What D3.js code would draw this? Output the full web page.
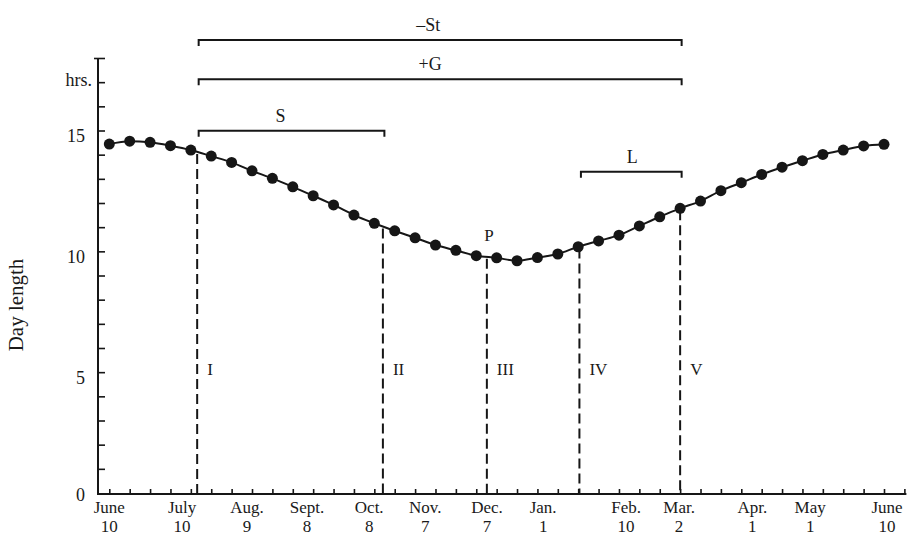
<!DOCTYPE html>
<html><head><meta charset="utf-8">
<script src="https://cdn.jsdelivr.net/npm/d3@7"></script>
<style>
body{margin:0;background:#fff}
svg{display:block;background:#fff}
text{font-family:"Liberation Serif","DejaVu Serif",serif;fill:#1a1a1a}
</style>
</head><body>
<svg id="c" width="910" height="536"></svg>
<script>
// Day length (hours) at each sample point, June 10 → June 10
const dayLength = [14.44, 14.56, 14.51, 14.37, 14.19, 13.94, 13.68, 13.33, 13.02, 12.67,
                   12.30, 11.92, 11.50, 11.16, 10.85, 10.56, 10.26, 10.04, 9.82, 9.73,
                   9.61, 9.74, 9.89, 10.19, 10.43, 10.67, 11.05, 11.43, 11.78, 12.08,
                   12.51, 12.84, 13.18, 13.48, 13.75, 14.01, 14.19, 14.36, 14.43];
// x tick labels (month / date) and where they sit, in sample-index units
const tickMonths = ["June","July","Aug.","Sept.","Oct.","Nov.","Dec.","Jan.","Feb.","Mar.","Apr.","May","June"];
const tickDates  = ["10","10","9","8","8","7","7","1","10","2","1","1","10"];
const tickAt     = [0, 3.57, 6.76, 9.7, 12.75, 15.5, 18.53, 21.28, 25.35, 27.95, 31.54, 34.38, 38.15];
// stage markers (dashed verticals)
const markerNames = ["I","II","III","IV","V"];
const markerAt    = [4.31, 13.42, 18.52, 23.06, 28.0];
// brackets above the curve
const bracketLabels = ["\u2013St","+G","S","L"];
const bracketFrom   = ["I","I","I","IV"];
const bracketTo     = ["V","V","II","V"];
// y axis
const yTickLabels = [0, 5, 10, 15];
const yUnit = "hrs.";
const yUnitAt = 17;
const yTitle = "Day length";
const peakLabel = "P";
const peakAt = "III";

const svg = d3.select("#c");
const ink = "#161616";
const x = d3.scaleLinear().domain([0, 38]).range([109.3, 884]);
const y = d3.scaleLinear().domain([0, 18]).range([493, 58]);
const axisY = 494, axisX = 98;
const markerPos = {};
markerNames.forEach((n, i) => markerPos[n] = markerAt[i]);

function curveAt(t) {
  const i0 = Math.min(Math.floor(t), dayLength.length - 2), f = t - i0;
  return dayLength[i0] * (1 - f) + dayLength[i0 + 1] * f;
}

// ---- y axis ----
const yAxis = d3.axisLeft(y)
  .tickValues(d3.range(1, 19))
  .tickSizeInner(-7).tickSizeOuter(0).tickPadding(13)
  .tickFormat(d => yTickLabels.includes(d) ? d : (d === yUnitAt ? yUnit : ""));
const gy = svg.append("g").attr("transform", `translate(${axisX},0)`).call(yAxis);
gy.select(".domain").remove();
gy.selectAll(".tick line").attr("stroke", ink).attr("stroke-width", 1.6);
gy.selectAll(".tick text").attr("font-size", 18).attr("dy", "0.62em").attr("fill", ink)
  .attr("font-family", '"Liberation Serif",serif');
gy.selectAll(".tick").filter(d => d === yUnitAt).select("text").attr("x", -6).attr("dy", "0.2em");
gy.selectAll(".tick").filter(d => d === 18).select("line").attr("x1", -4);
// 0 label
svg.append("text").attr("x", axisX - 13).attr("y", y(0) + 8).attr("text-anchor", "end")
  .attr("font-size", 18).text(yTickLabels[0]);
svg.append("line").attr("x1", axisX).attr("x2", axisX).attr("y1", y(18)).attr("y2", axisY + 1)
  .attr("stroke", ink).attr("stroke-width", 2);

// y title
svg.append("text").attr("transform", `translate(23,305) rotate(-90)`)
  .attr("text-anchor", "middle").attr("font-size", 21).text(yTitle);

// ---- x axis ----
const xAxis = d3.axisBottom(x).tickValues(d3.range(0, 40)).tickSizeInner(-5).tickSizeOuter(0).tickFormat("");
const gx = svg.append("g").attr("transform", `translate(0,${axisY})`).call(xAxis);
gx.select(".domain").remove();
gx.selectAll(".tick line").attr("stroke", ink).attr("stroke-width", 1.6);
svg.append("line").attr("x1", axisX).attr("x2", x(39) + 2).attr("y1", axisY).attr("y2", axisY)
  .attr("stroke", ink).attr("stroke-width", 2);

const xl = svg.append("g").selectAll("text").data(tickMonths).join("text")
  .attr("text-anchor", "middle").attr("font-size", 17)
  .attr("x", (d, i) => x(tickAt[i])).attr("y", 513);
xl.append("tspan").text(d => d);
xl.append("tspan").attr("x", (d, i) => x(tickAt[i])).attr("dy", 19).text((d, i) => tickDates[i]);

// ---- dashed stage lines ----
svg.append("g").selectAll("line").data(markerAt).join("line")
  .attr("x1", d => x(d)).attr("x2", d => x(d))
  .attr("y1", d => y(curveAt(d)) + 2).attr("y2", axisY)
  .attr("stroke", ink).attr("stroke-width", 2).attr("stroke-dasharray", "10,5");
svg.append("g").selectAll("text").data(markerNames).join("text")
  .attr("x", (d, i) => x(markerAt[i]) + 10).attr("y", 375)
  .attr("font-size", 17).text(d => d);

// peak label
svg.append("text").attr("x", x(markerPos[peakAt]) + 2).attr("y", 241)
  .attr("text-anchor", "middle").attr("font-size", 17).text(peakLabel);

// ---- curve and points ----
const line = d3.line().x((d, i) => x(i)).y(d => y(d)).curve(d3.curveMonotoneX);
svg.append("path").datum(dayLength).attr("d", line)
  .attr("fill", "none").attr("stroke", ink).attr("stroke-width", 2);
svg.append("g").selectAll("circle").data(dayLength).join("circle")
  .attr("cx", (d, i) => x(i)).attr("cy", d => y(d)).attr("r", 5.5).attr("fill", ink);

// ---- brackets ----
const rowY = {"\u2013St": 40, "+G": 79.3, "S": 130.7, "L": 171.7};
const labelDx = {"\u2013St": -12, "+G": -10, "S": -11, "L": 1};
const bg = svg.append("g");
bracketLabels.forEach((lab, i) => {
  const x1 = x(markerPos[bracketFrom[i]]) + 1.5, x2 = x(markerPos[bracketTo[i]]) + 1.5, yy = rowY[lab];
  bg.append("path").attr("d", `M${x1},${yy + 6}V${yy}H${x2}V${yy + 6}`)
    .attr("fill", "none").attr("stroke", ink).attr("stroke-width", 2);
  bg.append("text").attr("x", (x1 + x2) / 2 + labelDx[lab]).attr("y", yy - 9)
    .attr("text-anchor", "middle").attr("font-size", 18).text(lab);
});
</script>
</body></html>
